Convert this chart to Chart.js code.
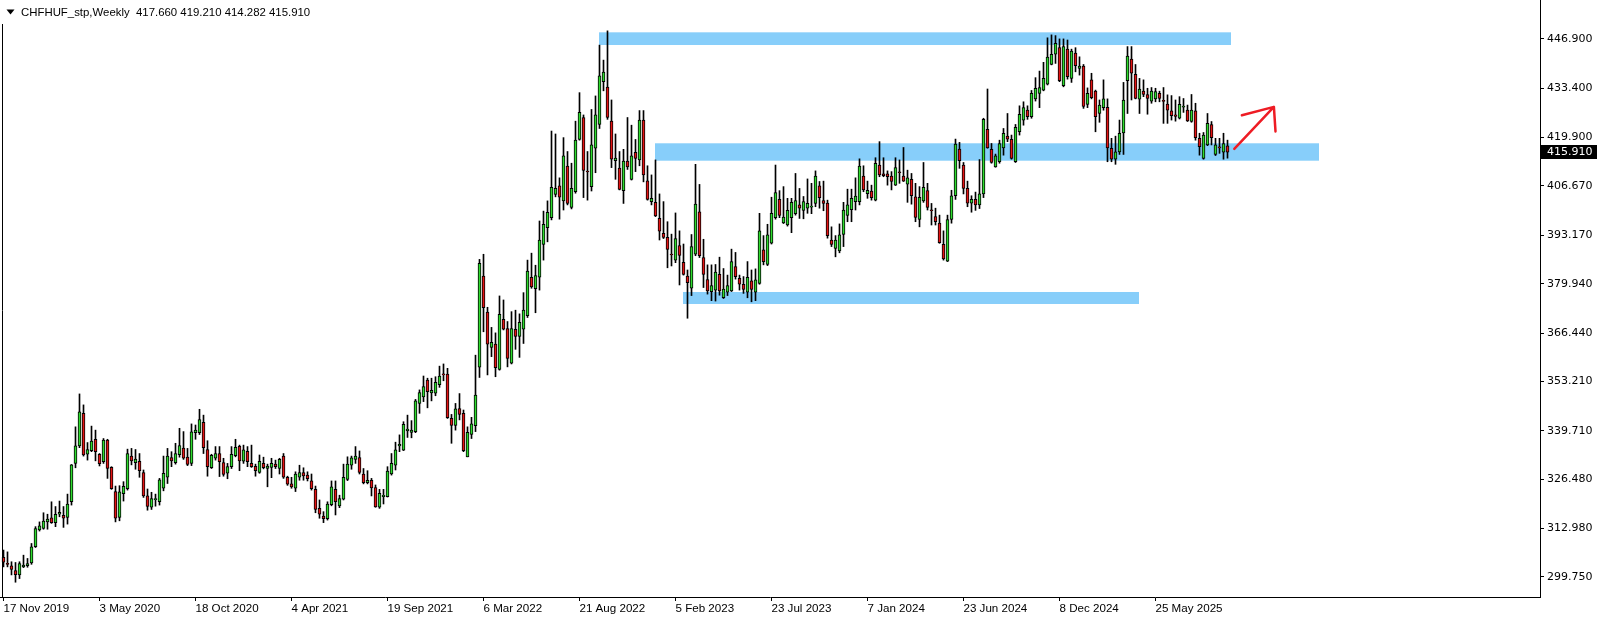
<!DOCTYPE html>
<html>
<head>
<meta charset="utf-8">
<title>CHFHUF Weekly</title>
<script src="https://cdn.jsdelivr.net/npm/chart.js@4.4.1/dist/chart.umd.min.js"></script>
<style>
  html, body { margin: 0; padding: 0; background: #fff; }
  #wrap { width: 1604px; height: 620px; }
</style>
</head>
<body>
<div id="wrap"><canvas id="myChart" width="1604" height="620"></canvas></div>
<script>
// weekly candles, first bar = 17 Nov 2019
const openVals = [
  305.1,303.4,302.8,301.5,300.3,302.5,302.8,303.6,308.0,312.6,
  313.0,314.8,315.9,314.6,316.9,316.6,316.0,320.3,330.8,335.6,
  344.5,333.3,334.3,337.4,333.3,331.3,337.2,329.7,323.1,316.0,
  322.5,323.9,332.8,331.0,331.4,328.3,321.9,318.8,320.9,320.3,
  324.0,327.0,332.4,331.0,333.2,335.0,332.5,330.8,339.2,339.2,
  342.0,334.6,329.6,332.2,333.5,331.0,328.1,329.9,332.9,335.5,
  331.4,334.1,330.8,330.0,328.3,330.8,329.4,329.7,330.6,329.4,
  332.8,327.0,325.2,324.0,327.0,328.3,327.6,326.0,323.7,318.5,
  316.4,315.7,319.5,323.7,319.2,321.0,326.4,330.3,331.9,332.4,
  327.9,325.5,326.2,324.2,318.8,321.7,321.7,327.9,330.3,335.6,
  334.4,339.7,339.3,339.5,347.2,349.0,353.6,350.1,350.0,352.3,
  355.1,355.2,343.1,341.2,345.8,344.5,332.6,338.7,341.1,357.1,
  382.0,372.2,362.5,363.4,356.5,370.2,367.7,358.2,367.5,365.5,
  367.5,371.2,381.7,378.6,381.7,390.7,395.3,398.0,404.4,406.7,
  402.6,412.1,400.8,405.1,419.4,425.4,410.6,406.5,417.0,423.5,
  435.2,433.7,424.4,413.6,411.6,405.4,413.5,408.5,415.9,413.8,
  424.7,408.1,402.4,402.2,397.8,393.7,392.6,387.9,386.4,390.4,
  385.8,382.0,378.7,388.0,399.6,387.1,381.1,377.8,378.2,382.5,
  376.1,377.6,378.0,384.6,381.4,379.8,377.6,380.7,377.6,380.0,
  389.2,385.2,391.0,398.0,403.0,396.6,396.0,398.0,399.1,401.5,
  400.0,400.6,400.9,401.9,406.7,402.7,402.0,391.9,389.6,388.9,
  393.4,398.6,400.2,402.4,402.4,409.4,404.6,405.3,402.8,412.4,
  410.0,410.0,409.4,406.9,410.4,409.4,407.2,408.5,403.7,397.5,
  402.6,405.4,400.0,398.3,396.5,390.7,386.1,397.5,404.0,416.8,
  412.4,406.0,402.0,403.0,401.5,404.5,422.2,416.7,411.9,413.3,
  417.1,420.3,419.4,413.3,421.5,424.7,427.4,425.6,430.5,432.0,
  432.9,434.5,439.9,442.7,444.5,434.1,444.1,436.1,443.0,438.8,
  439.5,429.0,435.7,432.6,426.5,428.1,428.2,417.0,414.0,416.0,
  421.2,435.5,441.4,437.2,430.4,432.6,431.7,429.9,430.5,432.0,
  429.9,429.1,427.2,426.1,425.2,428.2,427.4,424.3,427.2,419.7,
  414.2,417.9,423.5,415.3,417.4,415.9,417.66
];
const highVals = [
  307.1,306.6,303.9,303.7,303.9,305.7,304.8,308.9,313.5,314.8,
  317.3,316.9,320.3,319.0,320.5,319.0,322.4,330.5,340.8,349.8,
  346.8,336.5,341.0,339.9,333.5,337.6,337.4,329.9,324.6,324.7,
  325.8,334.7,334.9,334.6,333.5,329.0,323.8,322.9,322.4,326.7,
  332.8,334.9,334.0,336.3,340.4,339.5,334.9,341.6,341.3,345.6,
  344.0,337.0,333.3,335.4,335.4,332.2,330.8,335.4,337.4,335.8,
  335.8,335.4,335.8,330.6,333.1,332.5,330.6,332.2,331.7,332.2,
  333.5,327.3,327.0,328.5,330.3,329.6,328.5,327.9,324.6,320.8,
  317.6,320.3,326.0,326.0,322.1,330.6,332.6,332.8,335.4,334.2,
  329.4,328.8,326.7,324.9,323.7,323.7,329.9,333.5,336.6,338.6,
  342.2,344.0,342.5,348.3,350.9,354.7,354.1,354.1,354.5,357.4,
  358.0,356.8,344.2,347.2,349.9,345.4,340.8,343.4,360.4,386.6,
  388.0,373.5,368.0,366.5,376.6,375.5,369.6,372.3,372.7,371.7,
  377.5,386.4,388.3,385.0,397.1,399.8,402.6,421.7,420.9,408.9,
  419.9,416.1,412.9,424.4,432.2,426.1,416.1,427.6,431.3,445.2,
  441.1,449.1,430.2,420.9,416.1,416.7,425.4,423.3,419.4,427.3,
  427.3,412.2,409.7,413.8,404.5,402.4,396.9,393.5,399.3,394.4,
  390.8,383.7,393.4,412.6,407.1,392.1,385.1,385.1,385.2,387.2,
  384.1,382.3,389.4,388.5,382.3,381.9,386.0,383.7,384.0,399.2,
  393.1,396.2,403.6,412.4,405.4,406.5,403.3,403.3,410.1,406.0,
  403.8,408.6,407.4,410.8,407.9,408.0,402.8,395.5,393.1,396.3,
  402.2,405.8,405.8,408.9,414.1,412.2,408.0,406.9,414.4,418.8,
  414.4,410.8,410.6,414.4,413.8,417.2,411.0,410.1,407.4,406.5,
  413.1,407.4,401.9,400.6,398.7,394.4,398.7,405.5,419.5,418.6,
  413.1,408.0,404.0,405.0,413.9,425.2,433.2,418.3,415.4,419.2,
  422.4,426.5,420.6,423.5,428.6,429.7,428.6,432.8,436.3,438.1,
  440.5,447.2,448.0,447.8,446.9,446.9,446.6,444.1,444.5,442.0,
  439.9,433.5,437.5,432.9,430.2,435.7,430.5,419.7,420.3,424.7,
  435.0,444.8,444.8,439.9,436.1,435.7,433.4,433.6,433.4,432.6,
  433.6,431.6,431.4,430.2,431.1,430.6,428.8,431.7,429.3,421.1,
  421.3,426.5,424.3,419.7,419.7,421.1,419.21
];
const lowVals = [
  302.5,302.5,300.3,298.3,299.3,302.3,302.4,303.2,307.8,312.3,
  312.8,312.8,314.4,313.5,316.2,313.3,314.2,319.4,329.6,335.1,
  332.8,331.7,334.0,331.5,330.1,330.8,326.7,323.7,314.8,315.1,
  320.5,323.5,330.4,329.2,327.0,321.5,318.0,318.2,319.1,319.4,
  323.3,325.3,329.9,330.6,332.5,331.9,330.2,330.2,337.4,338.7,
  333.5,327.3,329.4,331.7,327.2,327.3,326.6,329.4,332.6,328.8,
  330.8,329.9,329.7,327.3,328.1,329.3,324.4,326.9,329.4,327.9,
  326.7,324.8,324.0,323.1,326.2,326.2,326.0,323.5,317.3,315.8,
  314.6,315.3,319.2,316.7,318.7,320.8,326.1,329.2,330.8,327.9,
  325.2,325.2,321.9,318.8,318.5,319.7,321.6,327.6,329.0,334.0,
  334.3,337.9,337.8,339.2,344.5,347.7,346.0,347.9,349.3,351.6,
  353.4,343.1,336.3,339.9,342.7,334.0,332.6,337.6,339.5,354.3,
  366.8,355.0,360.0,354.5,356.3,367.3,357.2,358.0,362.0,359.8,
  363.6,370.7,378.7,372.0,378.2,386.4,391.4,397.4,403.7,397.6,
  400.1,401.5,400.4,404.7,419.2,403.5,402.8,405.3,410.3,422.4,
  432.7,424.9,411.7,408.5,405.6,401.9,411.2,408.3,410.6,412.2,
  407.8,402.8,401.5,398.3,391.9,392.3,384.3,384.8,385.7,379.6,
  382.3,370.5,376.7,387.6,387.1,378.9,377.1,375.3,375.2,376.8,
  375.9,376.7,377.8,381.2,378.2,377.3,376.1,375.0,375.3,379.8,
  385.1,384.9,390.8,397.6,398.0,396.4,395.7,393.9,398.7,397.8,
  397.7,399.2,399.1,401.0,400.6,399.9,392.4,390.1,387.3,388.4,
  390.1,396.9,396.9,400.1,401.5,405.1,403.3,402.8,402.6,409.2,
  409.2,406.9,405.6,406.8,407.4,407.9,402.2,401.7,396.9,395.5,
  402.2,400.1,396.0,396.0,391.0,386.4,386.0,396.5,403.0,411.5,
  404.5,401.0,399.5,400.0,400.5,403.5,417.0,412.9,411.8,412.9,
  415.1,418.8,414.0,413.1,420.6,423.3,424.9,425.2,429.9,428.1,
  432.7,434.3,439.8,440.2,435.2,433.8,435.9,435.0,437.9,437.0,
  427.9,428.1,430.5,421.5,424.1,427.4,413.3,413.3,412.6,415.3,
  415.3,426.5,430.2,430.5,426.5,431.1,426.3,429.3,429.7,429.7,
  423.8,423.8,424.7,424.4,425.0,426.8,424.3,424.1,419.2,415.1,
  414.0,417.7,417.9,415.0,415.6,414.0,414.282
];
const closeVals = [
  303.8,303.2,301.8,300.4,303.4,303.0,303.4,308.0,313.0,313.7,
  315.0,315.6,314.6,316.9,317.4,315.8,319.7,330.4,335.6,344.9,
  333.1,334.6,336.9,334.0,330.7,337.2,329.4,323.9,315.8,323.0,
  324.5,333.5,331.5,332.0,328.8,321.9,319.0,321.2,321.0,326.3,
  328.1,332.8,331.5,333.5,335.7,332.2,330.5,339.4,339.9,342.8,
  335.1,329.9,333.0,333.5,331.3,327.8,329.9,333.3,335.2,331.5,
  334.5,331.3,329.9,328.8,331.4,329.6,330.1,330.8,329.9,331.9,
  327.0,325.1,324.4,327.9,328.3,327.4,326.6,323.9,318.2,316.9,
  315.7,319.7,324.4,320.3,321.2,327.0,330.6,332.3,332.8,328.3,
  325.5,326.2,324.1,318.9,322.6,322.1,328.7,330.8,334.5,336.0,
  341.5,340.2,339.9,347.9,350.2,351.8,350.4,350.8,353.0,354.7,
  355.0,343.3,341.2,345.7,344.2,334.3,339.3,341.6,349.5,385.5,
  373.4,363.4,363.9,357.0,371.6,367.5,359.5,367.7,365.5,369.4,
  372.7,383.4,379.1,382.2,391.9,396.2,399.5,406.3,406.0,403.6,
  414.9,401.9,406.0,419.2,426.8,410.9,410.5,417.9,426.1,436.8,
  437.8,425.4,414.0,414.3,405.7,413.5,411.9,414.9,414.2,424.7,
  409.7,403.0,403.3,398.5,394.3,392.6,389.3,387.8,392.3,387.7,
  382.5,380.2,390.1,401.7,387.6,382.5,378.0,379.4,383.1,378.0,
  378.5,379.4,386.0,381.9,379.8,378.4,381.7,378.4,381.0,394.4,
  386.0,393.3,399.2,404.9,398.6,398.2,400.0,402.2,402.7,400.6,
  402.4,401.9,401.0,409.4,403.5,401.9,393.1,390.7,391.9,393.3,
  400.1,401.5,403.3,403.9,412.1,405.6,405.5,403.5,412.9,409.7,
  409.5,409.2,407.9,411.7,410.3,408.0,408.9,404.0,398.1,403.6,
  406.3,400.8,399.9,396.9,391.2,386.7,397.5,404.0,418.1,413.6,
  406.0,402.0,403.0,401.5,404.5,424.9,417.1,413.1,414.9,418.3,
  421.1,419.5,414.2,422.7,426.3,428.1,425.6,432.0,433.4,433.6,
  436.1,441.9,442.7,445.7,435.5,444.8,436.6,443.6,439.6,439.5,
  428.4,432.0,430.8,425.6,428.8,430.5,417.1,414.0,416.0,421.1,
  430.2,442.2,437.5,430.6,433.2,431.7,430.6,432.6,432.5,430.6,
  429.8,427.4,425.9,425.7,429.0,428.5,424.5,427.4,419.9,417.4,
  420.6,423.8,419.9,417.9,417.1,418.3,415.91
];

// time axis labels (bar number -> date)
const xTickWeeks = [0, 24, 48, 72, 96, 120, 144, 168, 192, 216, 240, 264, 288];
const xTickLabels = ['17 Nov 2019', '3 May 2020', '18 Oct 2020', '4 Apr 2021', '19 Sep 2021',
  '6 Mar 2022', '21 Aug 2022', '5 Feb 2023', '23 Jul 2023', '7 Jan 2024', '23 Jun 2024',
  '8 Dec 2024', '25 May 2025'];
// price axis labels
const yTickValues = [446.9, 433.4, 419.9, 406.67, 393.17, 379.94, 366.44, 353.21, 339.71, 326.48, 312.98, 299.75];

// blue zones drawn on the chart (bar range, price range)
const zoneFrom = [148.875, 162.875, 169.875];
const zoneTo = [306.875, 328.875, 283.875];
const zoneHigh = [448.7, 418.35, 377.68];
const zoneLow = [445.23, 413.59, 374.4];

// hand drawn red arrow: shaft then two head strokes
const arrowBars = [307.7, 317.6, 309.6, 318.0];
const arrowPrices = [416.8, 428.3, 426.0, 421.6];

const headerText = 'CHFHUF_stp,Weekly  417.660 419.210 414.282 415.910';
const lastPrice = 415.91;

const bullColor = '#2edc2e';
const bearColor = '#e31414';
const zoneColor = '#87cefa';

const bodyData = openVals.map((o, i) => ({ x: i, y: [o, closeVals[i]] }));
const wickData = lowVals.map((l, i) => ({ x: i, y: [l, highVals[i]] }));
const bodyColors = openVals.map((o, i) => closeVals[i] >= o ? bullColor : bearColor);

// extra drawing: zones, arrow, frame, header, last price tag
const mtDecor = {
  id: 'mtDecor',
  beforeDatasetsDraw(chart) {
    const { ctx, scales: { x, y } } = chart;
    ctx.save();
    ctx.fillStyle = zoneColor;
    zoneFrom.forEach((f, k) => {
      const x0 = x.getPixelForValue(f);
      const x1 = x.getPixelForValue(zoneTo[k]);
      const y0 = y.getPixelForValue(zoneHigh[k]);
      const y1 = y.getPixelForValue(zoneLow[k]);
      ctx.fillRect(x0, y0, x1 - x0, y1 - y0);
    });
    ctx.restore();
  },
  afterDatasetsDraw(chart) {
    const { ctx, scales: { x, y } } = chart;
    const px = arrowBars.map(v => x.getPixelForValue(v));
    const py = arrowPrices.map(v => y.getPixelForValue(v));
    ctx.save();
    ctx.strokeStyle = '#ee1c24';
    ctx.lineWidth = 2.5;
    ctx.lineCap = 'round';
    ctx.lineJoin = 'round';
    ctx.beginPath();
    ctx.moveTo(px[0], py[0]);
    ctx.lineTo(px[1], py[1]);
    ctx.moveTo(px[2], py[2]);
    ctx.lineTo(px[1], py[1]);
    ctx.lineTo(px[3], py[3]);
    ctx.stroke();
    ctx.restore();
  },
  afterDraw(chart) {
    const { ctx, chartArea, scales: { y } } = chart;
    ctx.save();
    // left frame line
    ctx.strokeStyle = '#000';
    ctx.lineWidth = 1;
    ctx.beginPath();
    ctx.moveTo(2.5, 24);
    ctx.lineTo(2.5, chartArea.bottom);
    ctx.stroke();
    // header
    ctx.fillStyle = '#000';
    ctx.beginPath();
    ctx.moveTo(6.5, 9.5);
    ctx.lineTo(14.5, 9.5);
    ctx.lineTo(10.5, 14.5);
    ctx.closePath();
    ctx.fill();
    ctx.font = '11.4px "Liberation Sans"';
    ctx.textBaseline = 'middle';
    ctx.fillText(headerText, 21, 12.5);
    // last price tag
    const yp = Math.round(y.getPixelForValue(lastPrice));
    ctx.fillRect(chartArea.right + 1, yp - 7, 56, 14);
    ctx.fillStyle = '#fff';
    ctx.font = '11px "DejaVu Sans"';
    ctx.fillText(lastPrice.toFixed(3), chartArea.right + 7, yp + 0.5);
    ctx.restore();
  }
};

Chart.defaults.font.family = '"DejaVu Sans", sans-serif';
Chart.defaults.font.size = 11;
Chart.defaults.color = '#000';

const ctx = document.getElementById('myChart').getContext('2d');
new Chart(ctx, {
  type: 'bar',
  data: {
    datasets: [
      {
        label: 'body',
        data: bodyData,
        backgroundColor: bodyColors,
        borderColor: '#000',
        borderWidth: 1,
        borderSkipped: false,
        barThickness: 3,
        minBarLength: 1,
        grouped: false,
        order: 0
      },
      {
        label: 'wick',
        data: wickData,
        backgroundColor: '#000',
        borderWidth: 0,
        barThickness: 1,
        grouped: false,
        order: 1
      }
    ]
  },
  options: {
    responsive: false,
    devicePixelRatio: 1,
    animation: false,
    layout: { padding: 0 },
    plugins: { legend: { display: false }, tooltip: { enabled: false } },
    scales: {
      x: {
        type: 'linear',
        position: 'bottom',
        min: -0.875,
        max: 384.125,
        offset: false,
        grid: { offset: false, drawOnChartArea: false, drawTicks: true, tickLength: 4, color: '#000' },
        border: { display: true, color: '#000' },
        ticks: {
          autoSkip: false,
          maxRotation: 0,
          align: 'start',
          labelOffset: 0,
          padding: 1,
          font: { family: '"Liberation Sans", sans-serif', size: 11.6 },
          callback: (v, idx) => xTickLabels[idx]
        },
        afterBuildTicks: s => { s.ticks = xTickWeeks.map(v => ({ value: v })); },
        afterFit: s => { s.height = 23; s.paddingLeft = 0; s.paddingRight = 0; }
      },
      y: {
        type: 'linear',
        position: 'right',
        min: 294.26,
        max: 457.54,
        beginAtZero: false,
        grid: { drawOnChartArea: false, drawTicks: true, tickLength: 4, color: '#000' },
        border: { display: true, color: '#000' },
        ticks: {
          padding: 3,
          callback: v => Number(v).toFixed(3)
        },
        afterBuildTicks: s => { s.ticks = yTickValues.map(v => ({ value: v })); },
        afterFit: s => { s.width = 64; s.paddingTop = 0; s.paddingBottom = 0; }
      }
    }
  },
  plugins: [mtDecor]
});
</script>
</body>
</html>
